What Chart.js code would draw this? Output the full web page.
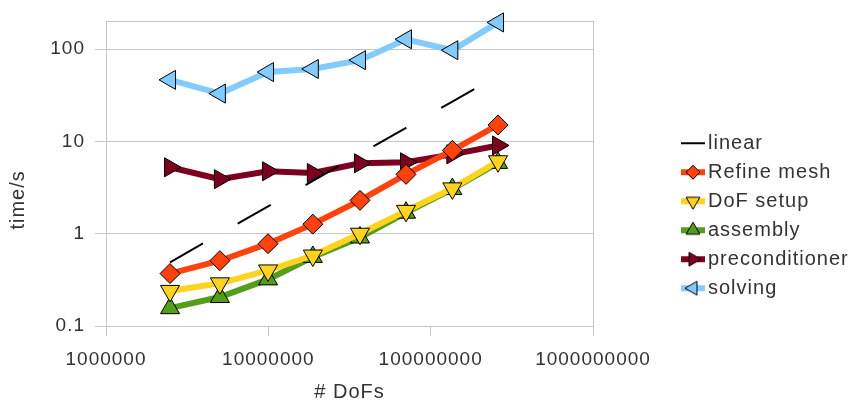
<!DOCTYPE html>
<html>
<head>
<meta charset="utf-8">
<script src="https://cdn.jsdelivr.net/npm/chart.js@4/dist/chart.umd.min.js"></script>
<style>
  html, body { margin: 0; padding: 0; background: #ffffff; }
  canvas { display: block; }
</style>
</head>
<body>
<canvas id="timings" width="851" height="403"></canvas>
<script>
/* ---------- Data ---------- */
const dofs        = [2.48e6, 5.03e6, 9.96e6, 1.88e7, 3.67e7, 7.05e7, 1.36e8, 2.60e8];
const linear      = [0.49, 1.0, 1.98, 3.74, 7.3, 14.0, 27.0, 51.5];
const refineMesh  = [0.37, 0.51, 0.78, 1.27, 2.3, 4.4, 8.0, 15.1];
const dofSetup    = [0.24, 0.29, 0.40, 0.58, 1.0, 1.77, 3.1, 6.1];
const assembly    = [0.156, 0.206, 0.32, 0.56, 0.91, 1.69, 3.05, 5.85];
const precond     = [5.25, 3.9, 4.75, 4.55, 5.8, 5.95, 7.25, 9.05];
const solving     = [46.5, 33, 56.5, 61, 76, 128, 97.5, 195];

const xTicks = [1e6, 1e7, 1e8, 1e9];
const yTicks = [0.1, 1, 10, 100, 200];   // 200 = top of the plot box, no label

const GRID = '#c6c6c6';
const TEXT = '#333333';

Chart.defaults.font.family = "'Liberation Sans', Arial, sans-serif";
Chart.defaults.color = TEXT;

// pairs x with y for the line datasets
function points(ys) {
  return ys.map((y, i) => ({ x: dofs[i], y: y }));
}

/* ---------- Legend icons: coloured bar + marker ---------- */
function legendIcon(ds) {
  const c = document.createElement('canvas');
  c.width = 24;
  c.height = 20;
  const g = c.getContext('2d');
  g.strokeStyle = ds.borderColor;
  g.lineWidth = ds.dash ? 2 : 6;
  g.beginPath();
  g.moveTo(0, 10);
  g.lineTo(24, 10);
  g.stroke();
  if (ds.pointStyle && ds.pointRadius > 0) {
    g.fillStyle = ds.pointBackgroundColor;
    g.strokeStyle = '#000000';
    g.lineWidth = 1;
    Chart.helpers.drawPoint(g, {
      pointStyle: ds.pointStyle,
      rotation: ds.pointRotation || 0,
      radius: ds.pointStyle === 'rectRot' ? 7 : 8,
      borderWidth: 1
    }, 12, 10);
  }
  return c;
}

function series(label, data, color, style, rotation) {
  return {
    label: label,
    data: points(data),
    borderColor: color,
    backgroundColor: color,
    borderWidth: 6,
    pointStyle: style,
    pointRotation: rotation,
    pointRadius: style === 'rectRot' ? 10 : 11,
    pointBackgroundColor: color,
    pointBorderColor: '#000000',
    pointBorderWidth: 1,
    tension: 0,
    clip: false
  };
}

// canvas letter spacing, the original output is spaced out a little
const spacing = {
  id: 'spacing',
  beforeUpdate(chart) { chart.ctx.letterSpacing = '1px'; },
  beforeDraw(chart) { chart.ctx.letterSpacing = '1px'; }
};

const datasets = [
  {
    label: 'linear',
    data: points(linear),
    borderColor: '#000000',
    backgroundColor: '#000000',
    borderWidth: 2,
    borderDash: [38, 40],
    pointRadius: 0,
    dash: true
  },
  series('Refine mesh', refineMesh, '#ff420e', 'rectRot', 0),
  series('DoF setup', dofSetup, '#ffd320', 'triangle', 180),
  series('assembly', assembly, '#579d1c', 'triangle', 0),
  series('preconditioner', precond, '#7e0021', 'triangle', 90),
  series('solving', solving, '#83caff', 'triangle', 270)
];

new Chart(document.getElementById('timings'), {
  type: 'line',
  data: { datasets: datasets },
  plugins: [spacing],
  options: {
    responsive: false,
    animation: false,
    layout: { padding: { top: 18, left: 0, right: 0, bottom: 0 } },
    plugins: {
      tooltip: { enabled: false },
      legend: {
        position: 'right',
        fullSize: false,
        maxWidth: 172,
        title: { display: true, text: ' ', padding: { top: 60, bottom: 0 }, font: { size: 20 } },
        labels: {
          font: { size: 20 },
          color: TEXT,
          padding: 9,
          usePointStyle: true,
          pointStyleWidth: 10,
          generateLabels: chart => chart.data.datasets.map((ds, i) => ({
            text: ds.label,
            pointStyle: legendIcon(ds),
            fontColor: TEXT,
            fillStyle: 'transparent',
            strokeStyle: 'transparent',
            lineWidth: 0,
            hidden: false,
            datasetIndex: i
          }))
        }
      }
    },
    scales: {
      x: {
        type: 'logarithmic',
        min: 1e6,
        max: 1e9,
        afterBuildTicks: s => { s.ticks = xTicks.map(v => ({ value: v })); },
        afterFit: s => { s.height = 77; },
        ticks: {
          font: { size: 19 },
          color: TEXT,
          padding: 12,
          maxRotation: 0,
          autoSkip: false,
          callback: v => String(v)
        },
        grid: { drawOnChartArea: false, color: GRID, tickLength: 10 },
        border: { color: GRID },
        title: { display: true, text: '# DoFs', font: { size: 20 }, color: TEXT, padding: { top: 0, bottom: -1 } }
      },
      y: {
        type: 'logarithmic',
        min: 0.1,
        max: 200,
        afterBuildTicks: s => { s.ticks = yTicks.map(v => ({ value: v })); },
        afterFit: s => { s.width = 106; },
        ticks: {
          font: { size: 19 },
          color: TEXT,
          padding: 10,
          callback: v => (v === 200 ? '' : String(v))
        },
        grid: {
          color: GRID,
          tickLength: 11,
          tickColor: c => (c.tick && c.tick.value === 200 ? 'rgba(0,0,0,0)' : GRID)
        },
        border: { color: GRID },
        title: { display: true, text: 'time/s        ', font: { size: 20 }, color: TEXT, padding: { top: 6, bottom: 0 } }
      },
      // right-hand frame line and the gap before the legend
      y2: {
        type: 'linear',
        position: 'right',
        display: true,
        afterFit: s => { s.width = 86; },
        ticks: { display: false },
        grid: { display: false },
        border: { display: true, color: GRID }
      }
    }
  }
});
</script>
</body>
</html>
